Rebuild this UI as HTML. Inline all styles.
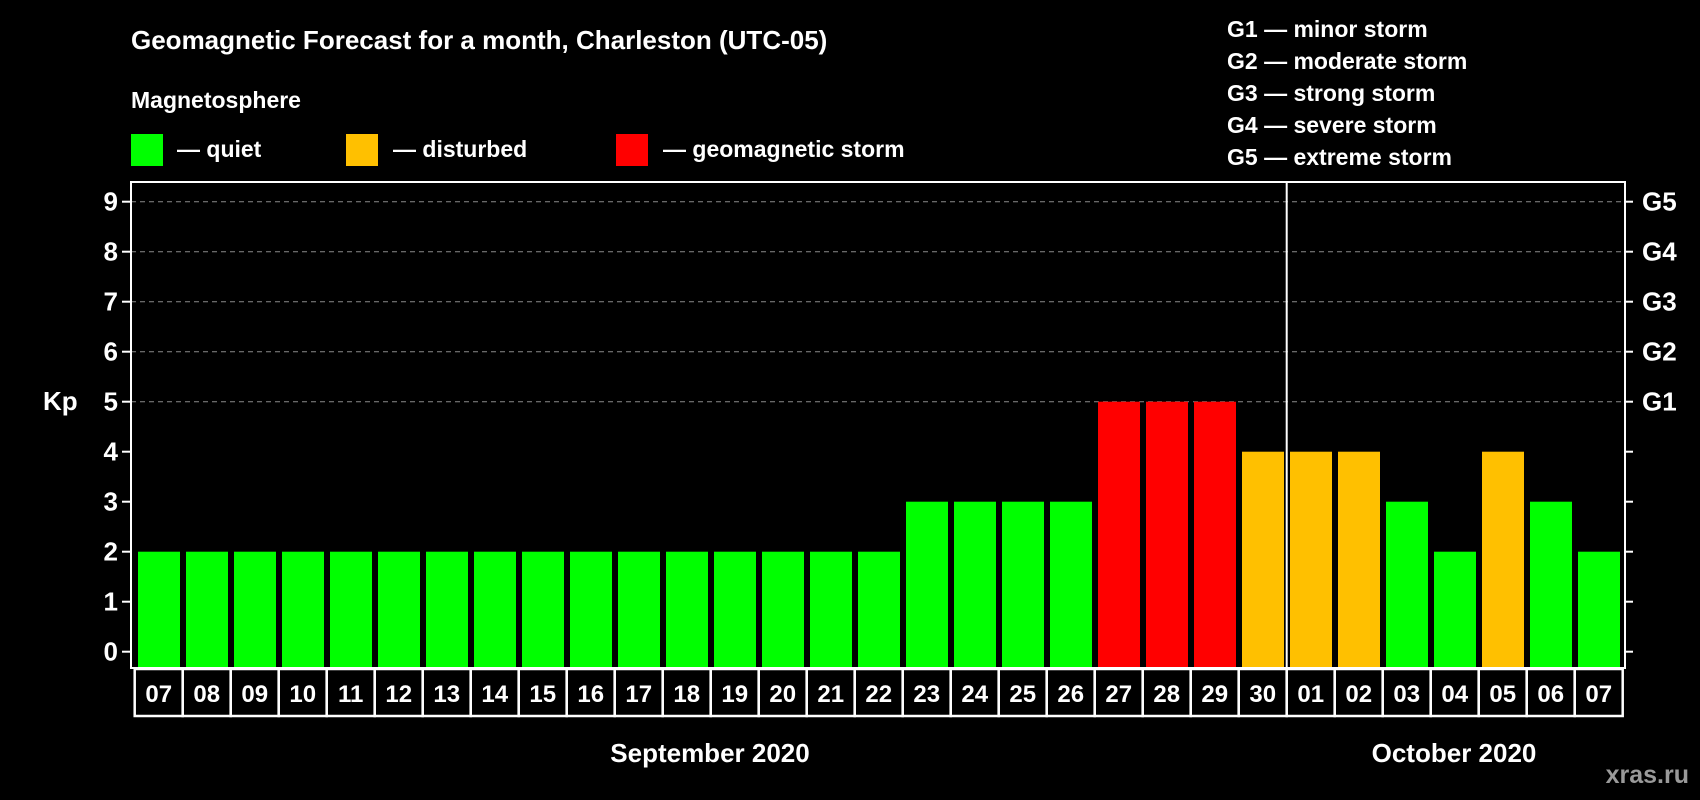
<!DOCTYPE html>
<html><head><meta charset="utf-8"><style>
html,body{margin:0;padding:0;background:#000;width:1700px;height:800px;overflow:hidden}
svg{display:block;font-family:"Liberation Sans",Arial,sans-serif;font-weight:bold}
</style></head><body>
<svg id="chart" width="1700" height="800" viewBox="0 0 1700 800" xmlns="http://www.w3.org/2000/svg">
<rect width="1700" height="800" fill="#000"/>
<text x="131" y="49" fill="#fff" font-size="26">Geomagnetic Forecast for a month, Charleston (UTC-05)</text>
<text x="131" y="108" fill="#fff" font-size="23">Magnetosphere</text>
<g><rect x="131" y="134" width="32" height="32" fill="#00ff00"/><text x="177" y="157" fill="#fff" font-size="23">— quiet</text></g>
<g><rect x="346" y="134" width="32" height="32" fill="#ffc000"/><text x="393" y="157" fill="#fff" font-size="23">— disturbed</text></g>
<g><rect x="616" y="134" width="32" height="32" fill="#ff0000"/><text x="663" y="157" fill="#fff" font-size="23">— geomagnetic storm</text></g>
<g fill="#fff" font-size="23">
<text x="1227" y="37">G1 — minor storm</text>
<text x="1227" y="69">G2 — moderate storm</text>
<text x="1227" y="101">G3 — strong storm</text>
<text x="1227" y="133">G4 — severe storm</text>
<text x="1227" y="165">G5 — extreme storm</text>
</g>
<text x="43" y="410" fill="#fff" font-size="26">Kp</text>
<g id="grid"></g><g id="bars"></g><g id="axes"></g><g id="days"></g>
<text x="710" y="762" fill="#fff" font-size="26" text-anchor="middle">September 2020</text>
<text x="1454" y="762" fill="#fff" font-size="26" text-anchor="middle">October 2020</text>
<text x="1689" y="783" fill="#9a9a9a" font-size="25" text-anchor="end">xras.ru</text>
</svg>
<script>
const days = ["07","08","09","10","11","12","13","14","15","16","17","18","19","20","21","22","23","24","25","26","27","28","29","30","01","02","03","04","05","06","07"];
const kpValues = [2,2,2,2,2,2,2,2,2,2,2,2,2,2,2,2,3,3,3,3,5,5,5,4,4,4,3,2,4,3,2];
const yTicks = [0,1,2,3,4,5,6,7,8,9];
const gLabels = ["G1","G2","G3","G4","G5"];
const monthBreakIndex = 24;

const NS="http://www.w3.org/2000/svg";
const L=131,R=1625,T=182,B=668,slot0=134.7,slotW=48;
function y(v){return 651.7-50*v;}
function xs(i){return slot0+slotW*i;}
function mk(tag,attrs,parent){const e=document.createElementNS(NS,tag);for(const k in attrs)e.setAttribute(k,attrs[k]);parent.appendChild(e);return e;}
function color(v){return v>=5?"#ff0000":(v>=4?"#ffc000":"#00ff00");}
const grid=document.getElementById('grid'),bars=document.getElementById('bars'),axes=document.getElementById('axes'),dg=document.getElementById('days');

yTicks.forEach(v=>{
  if(v>=5){const g=mk('line',{x1:L,x2:R,y1:y(v),y2:y(v),stroke:'#8a8a8a','stroke-width':1,'stroke-dasharray':'5,4'},grid);
  
  }
  const t=mk('line',{x1:L-9,x2:L,y1:y(v),y2:y(v),stroke:'#fff','stroke-width':2},axes);
  
  
  const t2=mk('line',{x1:R,x2:R+8,y1:y(v),y2:y(v),stroke:'#fff','stroke-width':2},axes);
  
  
  const lb=mk('text',{x:L-13,y:y(v)+9,fill:'#fff','font-size':26,'text-anchor':'end'},axes);
  lb.textContent=v;
  
  
});
gLabels.forEach((g,i)=>{
  const lb=mk('text',{x:R+17,y:y(5+i)+9,fill:'#fff','font-size':26},axes);
  lb.textContent=g;
  
  
});
kpValues.forEach((v,i)=>{
  const r=mk('rect',{x:xs(i)+3.3,y:y(v),width:42,height:B-y(v),fill:color(v)},bars);
  
  
});
const fr=mk('rect',{x:L,y:T,width:R-L,height:B-T,fill:'none',stroke:'#fff','stroke-width':2},axes);


const div=mk('line',{x1:xs(monthBreakIndex),x2:xs(monthBreakIndex),y1:T,y2:716,stroke:'#fff','stroke-width':2},axes);


days.forEach((d,i)=>{
  const bx=mk('rect',{x:xs(i),y:669,width:slotW,height:47,fill:'none',stroke:'#fff','stroke-width':2.5},dg);
  
  
  const t=mk('text',{x:xs(i)+slotW/2,y:702,fill:'#fff','font-size':24,'text-anchor':'middle'},dg);
  t.textContent=d;
  
  
});
</script>
</body></html>
